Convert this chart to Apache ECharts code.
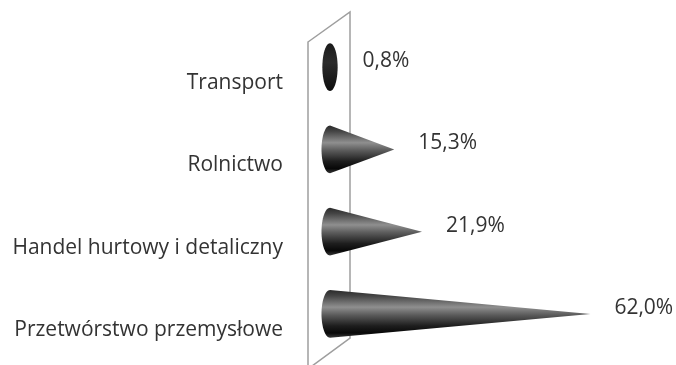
<!DOCTYPE html>
<html>
<head>
<meta charset="utf-8">
<script src="https://cdn.jsdelivr.net/npm/echarts@6/dist/echarts.min.js"></script>
<style>
html,body{margin:0;padding:0;background:#fff;}
#chart{width:676px;height:365px;}
</style>
</head>
<body>
<div id="chart"></div>
<script>
const categories = ['Transport', 'Rolnictwo', 'Handel hurtowy i detaliczny', 'Przetwórstwo przemysłowe'];
const values = [0.8, 15.3, 21.9, 62.0];
const valueLabels = ['0,8%', '15,3%', '21,9%', '62,0%'];

const FONT = '"Open Sans", "Noto Sans", sans-serif';
const chart = echarts.init(document.getElementById('chart'), null, {renderer: 'canvas'});

function coneGradient() {
  return {
    type: 'linear', x: 0, y: 0, x2: 0, y2: 1, global: false,
    colorStops: [
      {offset: 0, color: '#2a2a2a'},
      {offset: 0.12, color: '#444444'},
      {offset: 0.36, color: '#8f8f8f'},
      {offset: 0.52, color: '#5c5c5c'},
      {offset: 0.75, color: '#1e1e1e'},
      {offset: 0.9, color: '#080808'},
      {offset: 1, color: '#383838'}
    ]
  };
}
function darkGradient() {
  return {
    type: 'linear', x: 0, y: 0, x2: 0, y2: 1, global: false,
    colorStops: [
      {offset: 0, color: '#1a1a1a'},
      {offset: 0.4, color: '#2c2c2c'},
      {offset: 1, color: '#0e0e0e'}
    ]
  };
}

function ellipsePoints(cx, cy, rx, ry, a0, a1, n) {
  const pts = [];
  for (let i = 0; i <= n; i++) {
    const a = a0 + (a1 - a0) * i / n;
    pts.push([cx + rx * Math.cos(a), cy + ry * Math.sin(a)]);
  }
  return pts;
}

function renderWall(params, api) {
  const cs = params.coordSys;
  const gx = cs.x, gy = cs.y, gh = cs.height;
  const lx = gx - 22, rx = gx + 20;
  const pts = [
    [lx, gy + 16],
    [rx, gy - 14],
    [rx, gy + gh - 17],
    [lx, gy + gh + 14]
  ];
  return {
    type: 'polygon',
    shape: {points: pts},
    style: {fill: '#ffffff', stroke: '#9e9e9e', lineWidth: 1.5}
  };
}

function renderCone(params, api) {
  const idx = params.dataIndex;
  const v = api.value(0);
  const base = api.coord([0, idx]);
  const tip = api.coord([v, idx]);
  const band = api.size([0, 1])[1];
  const cx = base[0], cy = base[1];
  const ry = band * 0.29;
  const rxE = 8.5;
  const tx = tip[0];
  let pts, fill;
  if (tx - cx < rxE) {
    pts = ellipsePoints(cx, cy, rxE * 0.9, ry, 0, Math.PI * 2, 48);
    fill = darkGradient();
  } else {
    pts = [[tx, cy]].concat(ellipsePoints(cx, cy, rxE, ry, Math.PI / 2, Math.PI * 1.5, 32));
    fill = coneGradient();
  }
  const labelX = Math.max(tx, cx + rxE) + 24;
  return {
    type: 'group',
    children: [
      {type: 'polygon', shape: {points: pts}, style: {fill: fill}},
      {
        type: 'text',
        x: labelX,
        y: cy - 6,
        style: {
          text: valueLabels[idx],
          fill: '#333333',
          font: '21px ' + FONT,
          verticalAlign: 'middle',
          align: 'left'
        }
      },
      {
        type: 'text',
        x: cx - 47,
        y: cy + 16,
        style: {
          text: categories[idx],
          fill: '#333333',
          font: '21px ' + FONT,
          verticalAlign: 'middle',
          align: 'right'
        }
      }
    ]
  };
}

const option = {
  animation: false,
  backgroundColor: '#ffffff',
  grid: {left: 330, top: 26, width: 336, height: 329},
  xAxis: {type: 'value', min: 0, max: 80, show: false},
  yAxis: {
    type: 'category',
    data: categories,
    inverse: true,
    axisLine: {show: false},
    axisTick: {show: false},
    splitLine: {show: false},
    axisLabel: {show: false}
  },
  series: [
    {
      type: 'custom',
      renderItem: renderWall,
      data: [[0, 0]],
      z: 1,
      silent: true
    },
    {
      type: 'custom',
      renderItem: renderCone,
      encode: {x: 0, y: 1},
      data: values.map((v, i) => [v, i]),
      z: 2,
      clip: false
    }
  ]
};
chart.setOption(option);
</script>
</body>
</html>
